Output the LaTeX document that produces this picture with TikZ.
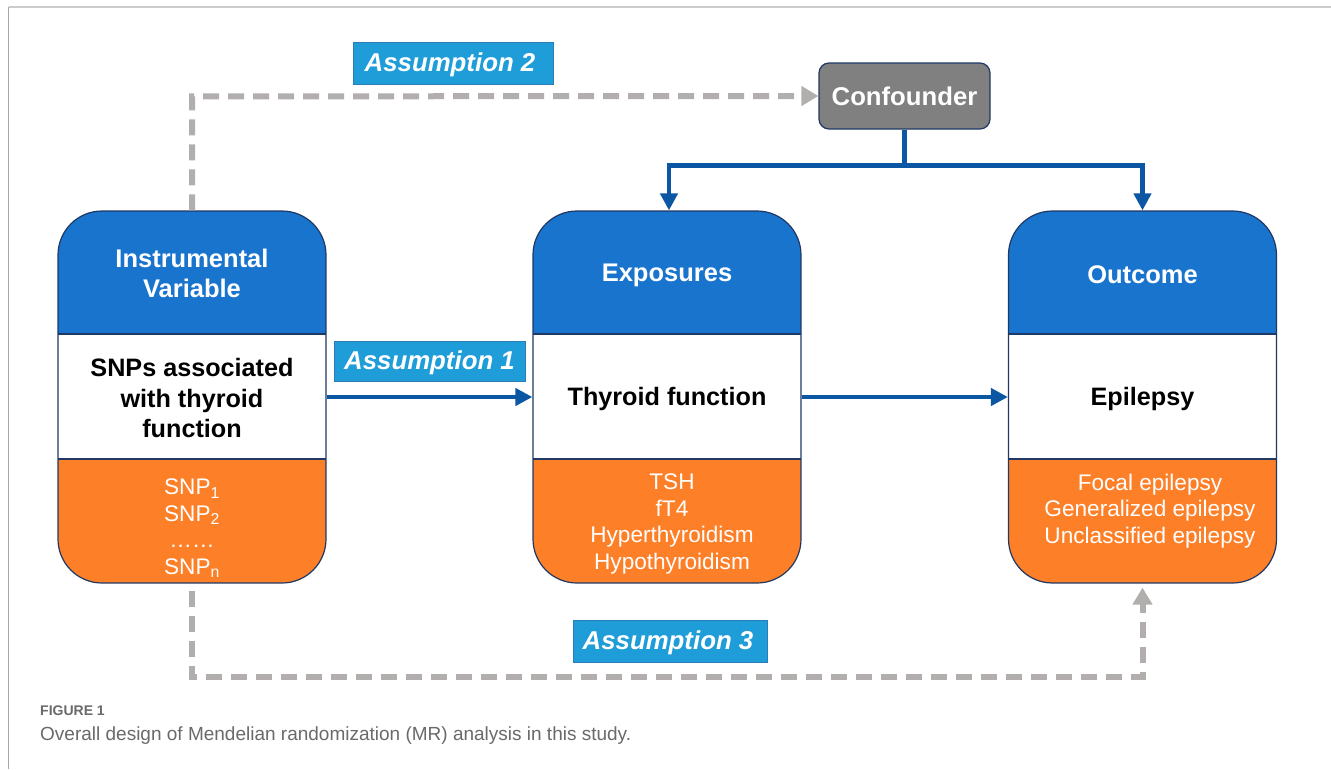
\documentclass[tikz,border=0pt]{standalone}
\usepackage{fontspec}
\setmainfont{Liberation Sans}
\usetikzlibrary{arrows.meta,calc}
\definecolor{hdrblue}{HTML}{1874CD}
\definecolor{orng}{HTML}{FD7F27}
\definecolor{navy}{HTML}{1F3864}
\definecolor{arrblue}{HTML}{0B57A4}
\definecolor{dgray}{HTML}{B3AEAE}
\definecolor{asmfill}{HTML}{1E9DD9}
\definecolor{asmdraw}{HTML}{2A7DB5}
\definecolor{confgray}{HTML}{808080}
\definecolor{capgray}{HTML}{6A6A6A}
\begin{document}
\begin{tikzpicture}[x=1pt,y=-1pt,
  tribox/.style={rectangle, rounded corners=44pt, draw=navy, line width=1.2pt,
    minimum width=268pt, minimum height=372pt, inner sep=0pt,
    path picture={
      \fill[hdrblue, sharp corners] (path picture bounding box.north west) rectangle ([yshift=-123pt]path picture bounding box.north east);
      \fill[orng, sharp corners] (path picture bounding box.south west) rectangle ([yshift=124pt]path picture bounding box.south east);
      \draw[navy, line width=1.2pt, sharp corners] ([yshift=-123pt]path picture bounding box.north west) -- ([yshift=-123pt]path picture bounding box.north east);
      \draw[navy, line width=1.2pt, sharp corners] ([yshift=124pt]path picture bounding box.south west) -- ([yshift=124pt]path picture bounding box.south east);
    }},
  hdrtext/.style={text=white, font=\fontsize{25.5}{30}\selectfont\bfseries, align=center},
  midtext/.style={text=black, font=\fontsize{25.2}{30.5}\selectfont\bfseries, align=center},
  bottext/.style={text=white, font=\fontsize{22.6}{26.5}\selectfont, align=center},
  asm/.style={rectangle, fill=asmfill, draw=asmdraw, line width=0.8pt},
  asmtext/.style={text=white, font=\fontsize{25.8}{30}\selectfont\bfseries\itshape, inner sep=0pt},
  bluearrow/.style={draw=arrblue, line width=4.5pt, -{Triangle[length=17pt,width=17pt]}},
  bluepath/.style={draw=arrblue, line width=4.5pt},
  grayarrow/.style={draw=dgray, line width=6pt, dash pattern=on 16pt off 9pt, -{Triangle[length=17pt,width=19pt]}}
]
\useasboundingbox (0,0) rectangle (1331,769);
\fill[white] (0,0) rectangle (1331,769);
% frame
\draw[draw=black!20, line width=2.5pt] (8.5,7) -- (1331,7);
\draw[draw=black!35, line width=1pt] (8.5,7) -- (8.5,769);

% boxes
\node[tribox] (iv) at (192,397) {};
\node[tribox] (exp) at (667,397) {};
\node[tribox] (out) at (1142.5,397) {};

\node[hdrtext] (ivh) at (192,273) {Instrumental\\Variable};
\node[midtext] (ivm) at (192,398) {SNPs associated\\with thyroid\\function};
\node[bottext] (ivb) at (192,528) {SNP\textsubscript{1}\\SNP\textsubscript{2}\\……\\SNP\textsubscript{n}};

\node[hdrtext] (exph) at (667,275) {Exposures};
\node[midtext] (expm) at (667,399) {Thyroid function};
\node[bottext] (expb) at (672,524) {TSH\\fT4\\Hyperthyroidism\\Hypothyroidism};

\node[hdrtext] (outh) at (1142.5,275) {Outcome};
\node[midtext] (outm) at (1142.5,399) {Epilepsy};
\node[bottext] (outb) at (1150,511) {Focal epilepsy\\Generalized epilepsy\\Unclassified epilepsy};

% confounder
\node[rectangle, rounded corners=10pt, fill=confgray, draw=navy, line width=1.2pt,
  minimum width=171pt, minimum height=66pt, text=white,
  font=\fontsize{25.7}{30}\selectfont\bfseries] (conf) at (904.5,96) {Confounder};

% assumption labels
\node[asm, minimum width=200pt, minimum height=42pt] (a2) at (453,63) {};
\node[asmtext] (a2t) at (450,65) {Assumption 2};
\node[asm, minimum width=191pt, minimum height=40pt] (a1) at (429.5,361) {};
\node[asmtext] (a1t) at (429.5,363) {Assumption 1};
\node[asm, minimum width=194pt, minimum height=42pt] (a3) at (670,641) {};
\node[asmtext] (a3t) at (668,643) {Assumption 3};

% blue connectors
\draw[bluearrow] (iv.east) -- (exp.west);
\draw[bluearrow] (exp.east) -- (out.west);
\coordinate (cj) at ($(conf.south)+(0,36)$);
\draw[bluepath] (conf.south) -- (cj);
\draw[bluearrow] (cj) -| ([xshift=2pt]exp.north);
\draw[bluearrow] (cj) -| (out.north);

% gray dashed connectors
\draw[grayarrow] (iv.north) -- ++(0,-114) -- (conf.west);
\coordinate (gs) at ($(iv.south)+(0,7)$);
\coordinate (ge) at ($(out.south)+(0,4)$);
\draw[grayarrow] (gs) -- ++(0,86) -| (ge);

% caption
\node[anchor=west, text=capgray, font=\fontsize{14}{16}\selectfont\bfseries, inner sep=0pt] (figlab) at (40,711) {FIGURE 1};
\node[anchor=west, text=capgray, font=\fontsize{19}{22}\selectfont, inner sep=0pt] (figcap) at (40,736) {Overall design of Mendelian randomization (MR) analysis in this study.};
\end{tikzpicture}
\end{document}
